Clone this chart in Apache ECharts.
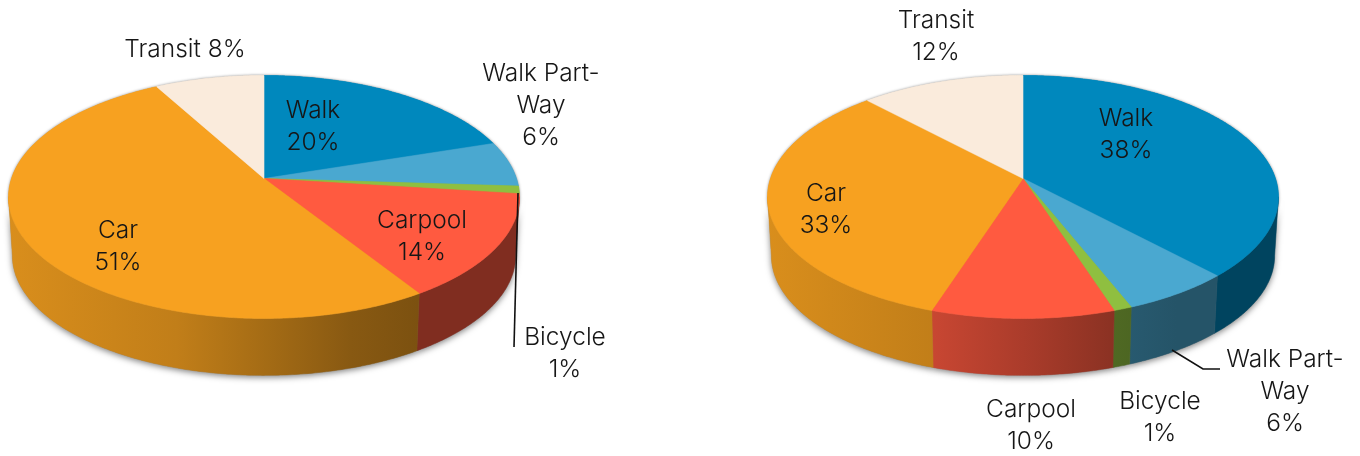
<!DOCTYPE html>
<html><head><meta charset="utf-8">
<style>html,body{margin:0;padding:0;background:#fff}#c{width:1360px;height:456px}</style>
<script src="https://cdn.jsdelivr.net/npm/echarts@6/dist/echarts.min.js"></script>
</head><body><div id="c"></div>
<script>
const categories = ['Walk', 'Walk Part-Way', 'Bicycle', 'Carpool', 'Car', 'Transit'];
const leftValues = [20, 6, 1, 14, 51, 8];
const rightValues = [38, 6, 1, 10, 33, 12];
const leftLabels = ['Walk\n20%', 'Walk Part-\nWay\n6%', 'Bicycle\n1%', 'Carpool\n14%', 'Car\n51%', 'Transit 8%'];
const rightLabels = ['Walk\n38%', 'Walk Part-\nWay\n6%', 'Bicycle\n1%', 'Carpool\n10%', 'Car\n33%', 'Transit\n12%'];

// layout & styling, kept apart from the data
const colors = ['#0088bd', '#4aa8d0', '#8fbf40', '#ff5a40', '#f7a120', '#faebdc'];
const leftLabelPos = [[313,126],[541,105],[565,353],[422,236],[118,246],[185,49]];
const rightLabelPos = [[1126,134],[1285,391],[1160,417],[1031,425],[826,209],[936,36]];
const PERSP = -0.152, RX = 252.5, RY = 118.7, CY = 178.5, DEPTH = 59 / RY, SHRINK = 0.985;
const FRONT_S = 0.15;
const FONT = { fontFamily: 'Inter', fontWeight: 300, fontSize: 24.5, lineHeight: 32, fill: '#161616', align: 'center', verticalAlign: 'middle' };
const SHADE = [[0,.88],[.33,.78],[.5,.67],[.67,.55],[.8,.5],[1,.5]];

function rim(phi) {
  const c = Math.sin(phi), s = -Math.cos(phi), w = 1 + PERSP * s;
  return [c / w, s / w];
}
function mult(hex, f) {
  const n = parseInt(hex.slice(1), 16);
  return 'rgb(' + [(n >> 16) & 255, (n >> 8) & 255, n & 255].map(v => Math.round(v * f)).join(',') + ')';
}
function arc(a0, a1) {
  const pts = [], n = Math.max(2, Math.ceil((a1 - a0) / 0.01));
  for (let i = 0; i <= n; i++) pts.push(rim(a0 + (a1 - a0) * i / n));
  return pts;
}
function makeRender(labels, positions) {
  return function (params, api) {
    const i = params.dataIndex;
    const start = api.value(3), val = api.value(2);
    const a0 = start / 100 * 2 * Math.PI, a1 = (start + val) / 100 * 2 * Math.PI;
    const px = p => api.coord(p);
    const top = [[0, 0]].concat(arc(a0, a1)).map(px);
    const color = colors[i];
    const children = [];
    children.push({ type: 'polygon', z2: 0, shape: { points: top }, style: { fill: color, shadowBlur: 3, shadowColor: 'rgba(0,0,0,.55)' } });
    const fa = Math.acos(-FRONT_S), f0 = Math.PI * 2 - fa;
    const b0 = Math.max(a0, fa), b1 = Math.min(a1, f0);
    if (b1 > b0) {
      const upper = arc(b0, b1);
      const lower = upper.map(p => [p[0] * SHRINK, p[1] * SHRINK + DEPTH]).reverse();
      const pts = upper.concat(lower).map(px);
      const xL = api.coord([-1.012, 0])[0], xR = api.coord([1.012, 0])[0];
      const fill = new echarts.graphic.LinearGradient(xL, 0, xR, 0,
        SHADE.map(s => ({ offset: s[0], color: mult(color, s[1]) })), true);
      children.push({ type: 'polygon', z2: 0, shape: { points: pts }, style: { fill: '#888', shadowBlur: 6, shadowOffsetY: 2, shadowColor: 'rgba(0,0,0,.5)' } });
      children.push({ type: 'polygon', z2: 1, shape: { points: pts }, style: { fill: fill, stroke: fill, lineWidth: .5 } });
    }
    children.push({ type: 'polygon', z2: 2, shape: { points: top }, style: { fill: color, stroke: color, lineWidth: .6 } });
    children.push({ type: 'text', z2: 4, x: positions[i][0], y: positions[i][1] + 1, style: Object.assign({ text: labels[i] }, FONT), silent: true });
    return { type: 'group', children: children };
  };
}
function seriesData(values) {
  let run = 0;
  return values.map((v, i) => { const d = { name: categories[i], value: [0, 0, v, run] }; run += v; return d; });
}
const axis = { type: 'value', min: -1, max: 1, show: false };
const gridFor = cx => ({ left: cx - RX, width: 2 * RX, top: CY - RY, height: 2 * RY });
const pie = (idx, values, labels, pos) => ({
  type: 'custom', coordinateSystem: 'cartesian2d', xAxisIndex: idx, yAxisIndex: idx, clip: false, silent: true,
  animation: false, encode: { x: 0, y: 1 }, data: seriesData(values), renderItem: makeRender(labels, pos)
});
const chart = echarts.init(document.getElementById('c'), null, { renderer: 'canvas' });
chart.setOption({
  animation: false, backgroundColor: '#fff',
  grid: [gridFor(264), gridFor(1023)],
  xAxis: [Object.assign({ gridIndex: 0 }, axis), Object.assign({ gridIndex: 1 }, axis)],
  yAxis: [Object.assign({ gridIndex: 0, inverse: true }, axis), Object.assign({ gridIndex: 1, inverse: true }, axis)],
  series: [pie(0, leftValues, leftLabels, leftLabelPos), pie(1, rightValues, rightLabels, rightLabelPos)],
  graphic: [
    { type: 'polyline', z: 20, shape: { points: [[518, 193], [514, 347]] }, style: { stroke: '#111', lineWidth: 1.6, fill: null } },
    { type: 'polyline', z: 20, shape: { points: [[1172, 350], [1203, 369], [1220, 369]] }, style: { stroke: '#111', lineWidth: 1.6, fill: null } }
  ]
});
</script></body></html>
